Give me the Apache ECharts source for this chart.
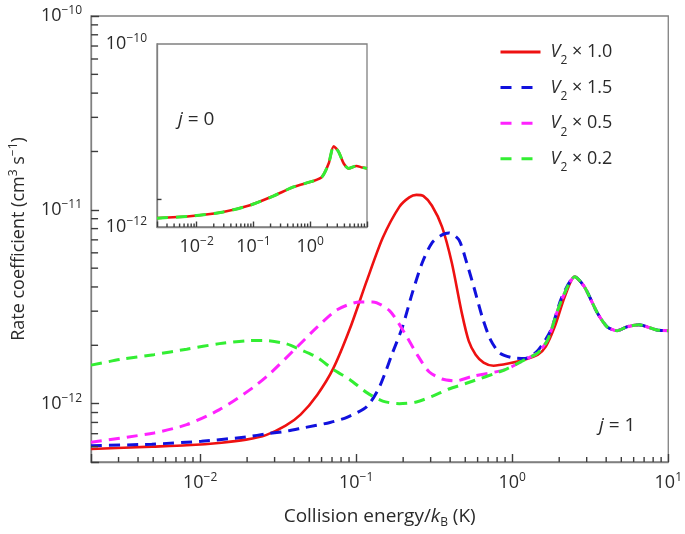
<!DOCTYPE html>
<html><head><meta charset="utf-8">
<script src="https://cdn.jsdelivr.net/npm/echarts@6/dist/echarts.min.js"></script>
<style>html,body{margin:0;padding:0;background:#fff}#c{width:685px;height:534px}</style>
</head><body><div id="c"></div>
<script>
// Collision energy in K; rate coefficients in units of 1e-12 cm^3 s^-1
const tailX = [2.9, 3.51, 4.06, 4.7, 5.44, 6.48, 8.43, 10];
const tailY = [4.01, 2.94, 2.49, 2.38, 2.49, 2.55, 2.40, 2.38];

const redX = [0.002, 0.0049, 0.0082, 0.0137, 0.0197, 0.0264, 0.0353, 0.044, 0.0564, 0.0712, 0.0912, 0.117, 0.148, 0.189, 0.219, 0.243, 0.269, 0.306, 0.355, 0.41, 0.475, 0.526, 0.583, 0.655, 0.758, 0.943, 1.21, 1.46, 1.64, 1.87, 2.17, 2.51];
const redY = [0.584, 0.600, 0.610, 0.629, 0.652, 0.688, 0.770, 0.878, 1.113, 1.515, 2.44, 4.31, 7.17, 10.36, 11.6, 11.95, 11.8, 10.5, 8.17, 5.33, 2.94, 2.11, 1.79, 1.63, 1.57, 1.61, 1.69, 1.79, 1.97, 2.49, 3.56, 4.52];

const blueX = [0.002, 0.0049, 0.0102, 0.0197, 0.0272, 0.0353, 0.044, 0.068, 0.0873, 0.117, 0.141, 0.171, 0.198, 0.229, 0.265, 0.306, 0.355, 0.393, 0.455, 0.511, 0.574, 0.645, 0.725, 0.828, 0.985, 1.21, 1.46, 1.77, 2.07, 2.51];
const blueY = [0.607, 0.618, 0.640, 0.673, 0.70, 0.72, 0.745, 0.80, 0.85, 0.966, 1.22, 1.83, 2.49, 3.73, 5.33, 6.76, 7.43, 7.6, 7.0, 5.33, 3.87, 2.77, 2.14, 1.83, 1.73, 1.71, 1.88, 2.40, 3.51, 4.52];

const magentaX = [0.002, 0.00506, 0.0082, 0.0133, 0.0218, 0.0284, 0.0421, 0.0564, 0.0755, 0.1055, 0.128, 0.164, 0.204, 0.246, 0.293, 0.355, 0.435, 0.55, 0.903, 1.21, 1.46, 1.69, 1.96, 2.26, 2.51];
const magentaY = [0.632, 0.706, 0.779, 0.931, 1.21, 1.444, 1.97, 2.49, 3.05, 3.35, 3.35, 3.01, 2.32, 1.79, 1.46, 1.34, 1.31, 1.38, 1.50, 1.69, 1.83, 2.14, 3.05, 4.01, 4.52];

const greenX = [0.002, 0.00308, 0.00506, 0.0082, 0.0133, 0.0197, 0.0252, 0.0353, 0.044, 0.0564, 0.0712, 0.0912, 0.117, 0.148, 0.189, 0.243, 0.306, 0.393, 0.503, 0.903, 1.21, 1.46, 1.69, 1.96, 2.26, 2.51];
const greenY = [1.58, 1.69, 1.79, 1.91, 2.04, 2.11, 2.12, 2.04, 1.90, 1.73, 1.50, 1.33, 1.14, 1.03, 1.00, 1.02, 1.09, 1.19, 1.27, 1.50, 1.69, 1.83, 2.14, 3.05, 4.01, 4.52];

// inset (j = 0)
const insetX = [0.002, 0.0075, 0.0292, 0.0867, 0.224, 0.506, 1.14, 1.61, 2.11, 2.59, 3.17, 3.89, 4.77, 6.52, 8.22, 10];
const insetY = [1.25, 1.31, 1.46, 1.73, 2.18, 2.74, 3.19, 3.53, 4.94, 7.64, 6.62, 4.94, 4.37, 4.65, 4.47, 4.37];

const seriesNames = ['V2 × 1.0', 'V2 × 1.5', 'V2 × 0.5', 'V2 × 0.2'];
const legendFactors = ['1.0', '1.5', '0.5', '0.2'];

// axis ranges & minor tick values
const MAIN_XMIN = 0.002, MAIN_XMAX = 10, MAIN_YMIN = 0.5, MAIN_YMAX = 100;
const INS_YMIN = 1, INS_YMAX = 100;
const xMinorTicks = [0.003,0.004,0.005,0.006,0.007,0.008,0.009,0.02,0.03,0.04,0.05,0.06,0.07,0.08,0.09,0.2,0.3,0.4,0.5,0.6,0.7,0.8,0.9,2,3,4,5,6,7,8,9];
const yMinorTicks = [0.6,0.7,0.8,0.9,2,3,4,5,6,7,8,9,20,30,40,50,60,70,80,90];
const insetYMinorTicks = [2];

const FONT = "'Open Sans', 'DejaVu Sans', sans-serif";
const TXT = '#2a2a2a', AX = '#808080', TK = '#3c3c3c';
const COLORS = ['#ee1111', '#1111dd', '#ff22ff', '#33ee33'];

function pairs(xs, ys) { return xs.map((x, i) => [x, ys[i]]); }
function powLabel(v, shift, allowed) {
  const l = Math.log10(v), e = Math.round(l);
  if (Math.abs(l - e) > 1e-6) return '';
  if (allowed && allowed.indexOf(e) < 0) return '';
  const n = e + shift;
  return '{b|10}{e|' + (n < 0 ? '\u2212' + (-n) : String(n)) + '}';
}
const tickRich = {
  b: {fontSize: 18, lineHeight: 22, fontFamily: FONT, color: TXT},
  e: {fontSize: 12, lineHeight: 12, verticalAlign: 'top', fontFamily: FONT, color: TXT}
};

function lineSeries(name, xs, ys, color, dashed, xi, z) {
  return {
    type: 'line', name: name, xAxisIndex: xi, yAxisIndex: xi,
    data: pairs(xs, ys), symbol: 'none', smooth: 0.25, z: z,
    lineStyle: {color: color, width: dashed ? 3 : 2.6, type: dashed ? [11, 7] : 'solid', cap: 'butt'},
    itemStyle: {color: color}, emphasis: {disabled: true}, silent: true
  };
}
// minor ticks drawn as short segments through the axis scales
function tickSeries(data, dx, dy, xi) {
  return {
    type: 'custom', xAxisIndex: xi, yAxisIndex: xi, data: data, silent: true, z: 6, clip: false,
    renderItem: function (params, api) {
      const p = api.coord([api.value(0), api.value(1)]);
      return {type: 'line', shape: {x1: p[0], y1: p[1], x2: p[0] + dx, y2: p[1] + dy},
              style: {stroke: TK, lineWidth: 1.4}};
    }
  };
}

const allX = [redX, blueX, magentaX, greenX];
const allY = [redY, blueY, magentaY, greenY];

const series = [];
for (let i = 0; i < 4; i++) {
  series.push(lineSeries(seriesNames[i], allX[i].concat(tailX), allY[i].concat(tailY), COLORS[i], i > 0, 0, 3 + i));
}
series.push(lineSeries('j0 V2 × 1.0', insetX, insetY, COLORS[0], false, 1, 3));
const insetGreen = lineSeries('j0 V2 × 0.2', insetX, insetY, COLORS[3], true, 1, 4);
insetGreen.lineStyle.type = [11, 8];
series.push(insetGreen);
series.push(tickSeries(xMinorTicks.map(v => [v, MAIN_YMIN]), 0, -5, 0));
series.push(tickSeries(yMinorTicks.map(v => [MAIN_XMIN, v]), 7, 0, 0));
series.push(tickSeries(xMinorTicks.map(v => [v, INS_YMIN]), 0, -3.5, 1));
series.push(tickSeries(insetYMinorTicks.map(v => [MAIN_XMIN, v]), 4.5, 0, 1));

const axisLineStyle = {show: true, lineStyle: {color: AX, width: 1.3}};

const option = {
  animation: false,
  backgroundColor: '#fff',
  grid: [
    {left: 89, top: 16, right: 13, bottom: 72, show: true, borderColor: AX, borderWidth: 1.3, backgroundColor: 'transparent'},
    {left: 157, top: 44, width: 210, height: 183, show: true, borderColor: AX, borderWidth: 1.3, backgroundColor: '#fff'}
  ],
  xAxis: [
    {type: 'log', logBase: 10, gridIndex: 0, min: MAIN_XMIN, max: MAIN_XMAX,
     axisLine: axisLineStyle, splitLine: {show: false},
     axisTick: {show: true, inside: true, length: 8, lineStyle: {color: TK, width: 1.4}},
     axisLabel: {show: true, margin: 10, formatter: v => powLabel(v, 0), rich: tickRich, showMaxLabel: true, showMinLabel: true},
     name: 'Collision energy/{i|k}{s|B} (K)', nameLocation: 'middle', nameGap: 43,
     nameTextStyle: {fontSize: 19, lineHeight: 24, fontFamily: FONT, color: TXT,
       rich: {i: {fontSize: 19, lineHeight: 24, fontStyle: 'italic', fontFamily: FONT, color: TXT},
              s: {fontSize: 12, lineHeight: 12, verticalAlign: 'bottom', fontFamily: FONT, color: TXT}}}},
    {type: 'log', logBase: 10, gridIndex: 1, min: MAIN_XMIN, max: MAIN_XMAX,
     axisLine: axisLineStyle, splitLine: {show: false},
     axisTick: {show: true, inside: true, length: 5.5, lineStyle: {color: TK, width: 1.4}},
     axisLabel: {show: true, margin: 9, formatter: v => powLabel(v, 0, [-2, -1, 0]), rich: tickRich}}
  ],
  yAxis: [
    {type: 'log', logBase: 10, gridIndex: 0, min: MAIN_YMIN, max: MAIN_YMAX,
     axisLine: axisLineStyle, splitLine: {show: false},
     axisTick: {show: true, inside: true, length: 8, lineStyle: {color: TK, width: 1.4}},
     axisLabel: {show: true, margin: 9, formatter: v => powLabel(v, -12), rich: tickRich, showMaxLabel: true},
     name: 'Rate coefficient (cm{p|3} s{p|\u22121})', nameLocation: 'middle', nameGap: 58, nameRotate: 90,
     nameTextStyle: {fontSize: 18, lineHeight: 22, fontFamily: FONT, color: TXT,
       rich: {p: {fontSize: 12, lineHeight: 11, verticalAlign: 'top', fontFamily: FONT, color: TXT}}}},
    {type: 'log', logBase: 10, gridIndex: 1, min: INS_YMIN, max: INS_YMAX,
     axisLine: axisLineStyle, splitLine: {show: false},
     axisTick: {show: false},
     axisLabel: {show: true, margin: 10, formatter: v => powLabel(v, -12, [0, 2]), rich: tickRich, showMaxLabel: true}}
  ],
  legend: {
    data: seriesNames.map((n, i) => ({name: n, lineStyle: {width: 3, type: i === 0 ? 'solid' : [11, 10]}})),
    orient: 'vertical', left: 499, top: 37, padding: 0, itemWidth: 40, itemHeight: 14, itemGap: 5.6,
    selectedMode: false, itemStyle: {opacity: 0},
    formatter: name => '{v|V}{s|2}{t| \u00d7 ' + legendFactors[seriesNames.indexOf(name)] + '}',
    textStyle: {fontFamily: FONT, color: TXT, fontSize: 18, lineHeight: 30,
      rich: {v: {fontSize: 18, lineHeight: 30, fontStyle: 'italic', fontFamily: FONT, color: TXT, padding: [0, 0, 0, 5]},
             s: {fontSize: 12, lineHeight: 10, verticalAlign: 'bottom', fontFamily: FONT, color: TXT},
             t: {fontSize: 18, lineHeight: 30, fontFamily: FONT, color: TXT}}}
  },
  graphic: [
    {type: 'text', left: 178, top: 108, z: 10, silent: true,
     style: {text: '{i|j} = 0', fontSize: 19, lineHeight: 24, fontFamily: FONT, fill: TXT,
       rich: {i: {fontStyle: 'italic', fontSize: 19, lineHeight: 24, fontFamily: FONT, fill: TXT}}}},
    {type: 'text', left: 599, top: 414, z: 10, silent: true,
     style: {text: '{i|j} = 1', fontSize: 19, lineHeight: 24, fontFamily: FONT, fill: TXT,
       rich: {i: {fontStyle: 'italic', fontSize: 19, lineHeight: 24, fontFamily: FONT, fill: TXT}}}}
  ],
  series: series
};

const chart = echarts.init(document.getElementById('c'), null, {renderer: 'canvas', width: 685, height: 534});
chart.setOption(option);
</script>
</body></html>
